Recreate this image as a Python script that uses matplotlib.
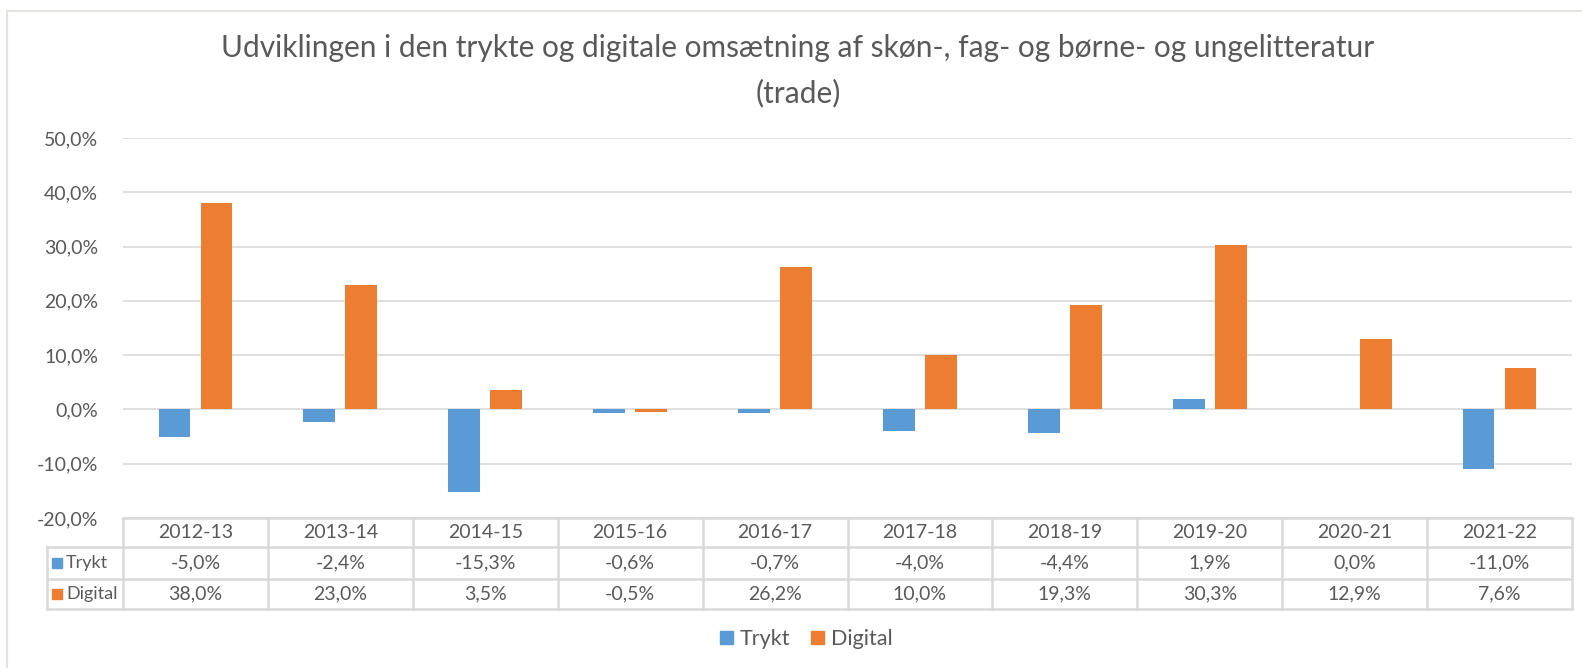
import matplotlib
matplotlib.use("Agg")
import matplotlib.pyplot as plt
import matplotlib.transforms as mtransforms
from matplotlib.patches import Patch, Rectangle
import numpy as np

plt.rcParams['font.family'] = ['Lato', 'DejaVu Sans']

# data (percent change)
periods = ["2012-13", "2013-14", "2014-15", "2015-16", "2016-17",
           "2017-18", "2018-19", "2019-20", "2020-21", "2021-22"]
trykt = [-5.0, -2.4, -15.3, -0.6, -0.7, -4.0, -4.4, 1.9, 0.0, -11.0]
digital = [38.0, 23.0, 3.5, -0.5, 26.2, 10.0, 19.3, 30.3, 12.9, 7.6]
series_names = ["Trykt", "Digital"]
y_ticks = [-20, -10, 0, 10, 20, 30, 40, 50]

BLUE = "#5B9BD5"
ORANGE = "#ED7D31"
TEXT = "#595959"
GRID = "#d9d9d9"
FS = 14

W, H = 1582, 668
fig = plt.figure(figsize=(W / 100, H / 100), dpi=100)

# outer chart frame
fig.patches.append(Rectangle((7 / W, -0.05), 1.2, 1.05 - 11 / H, transform=fig.transFigure,
                             fill=False, edgecolor="#e4e4de", linewidth=1.5))

left, right, top, bottom = 123, 1572, 138, 518
ax = fig.add_axes([left / W, 1 - bottom / H, (right - left) / W, (bottom - top) / H])

def pct(v):
    return f"{v:.1f}%".replace(".", ",")

x = np.arange(len(periods))
bw, off = 0.22, 0.145
ax.bar(x - off, trykt, bw, color=BLUE, zorder=3)
ax.bar(x + off, digital, bw, color=ORANGE, zorder=3)

ax.set_xlim(-0.5, len(periods) - 0.5)
ax.set_ylim(min(y_ticks), max(y_ticks))
ax.set_yticks(y_ticks)
ax.set_yticklabels([pct(t) for t in y_ticks], fontsize=FS, color=TEXT)
ax.set_xticks([])
ax.tick_params(axis='y', length=0, pad=18)
for s in ax.spines.values():
    s.set_visible(False)
ax.grid(axis='y', color=GRID, linewidth=1.2, zorder=0)

# data table below the plot
tr = mtransforms.blended_transform_factory(ax.transData, ax.transAxes)
ph = bottom - top
rows_y = [0, -29 / ph, -61 / ph, -91 / ph]
label_x = -0.5 - (left - 47) / ((right - left) / len(periods))
lkw = dict(color=GRID, linewidth=1.8, transform=tr, clip_on=False)

ax.plot([-0.5, len(periods) - 0.5], [rows_y[0]] * 2, **lkw)
for yy in rows_y[1:]:
    ax.plot([label_x, len(periods) - 0.5], [yy] * 2, **lkw)
for b in np.arange(-0.5, len(periods)):
    ax.plot([b, b], [rows_y[0], rows_y[-1]], **lkw)
ax.plot([label_x, label_x], [rows_y[1], rows_y[-1]], **lkw)

for i, p in enumerate(periods):
    ax.text(i, (rows_y[0] + rows_y[1]) / 2, p, transform=tr, ha='center', va='center',
            fontsize=FS, color=TEXT)
    ax.text(i, (rows_y[1] + rows_y[2]) / 2, pct(trykt[i]), transform=tr, ha='center',
            va='center', fontsize=FS, color=TEXT)
    ax.text(i, (rows_y[2] + rows_y[3]) / 2, pct(digital[i]), transform=tr, ha='center',
            va='center', fontsize=FS, color=TEXT)

cw = (right - left) / len(periods)
for j, (name, col) in enumerate(zip(series_names, [BLUE, ORANGE])):
    yc = (rows_y[j + 1] + rows_y[j + 2]) / 2
    ax.add_patch(Rectangle((label_x + 5 / cw, yc - 5 / ph), 10 / cw, 10 / ph, transform=tr,
                           color=col, clip_on=False))
    ax.text(label_x + 19 / cw, yc, name, transform=tr, ha='left', va='center',
            fontsize=13, color=TEXT)

# title
fig.text(798 / W, 1 - 48 / H, "Udviklingen i den trykte og digitale omsætning af skøn-, fag- og børne- og ungelitteratur",
         ha='center', va='center', fontsize=21.5, color=TEXT)
fig.text(798 / W, 1 - 93 / H, "(trade)", ha='center', va='center', fontsize=21.5, color=TEXT)

# legend
handles = [Patch(color=BLUE, label=series_names[0]), Patch(color=ORANGE, label=series_names[1])]
leg = fig.legend(handles=handles, loc='center', bbox_to_anchor=(806 / W, 1 - 639 / H), ncol=2,
                 frameon=False, fontsize=15.5, handlelength=0.6, handleheight=0.6,
                 handletextpad=0.3, columnspacing=1.0)
for t in leg.get_texts():
    t.set_color(TEXT)

fig.savefig("out.png", dpi=100)
